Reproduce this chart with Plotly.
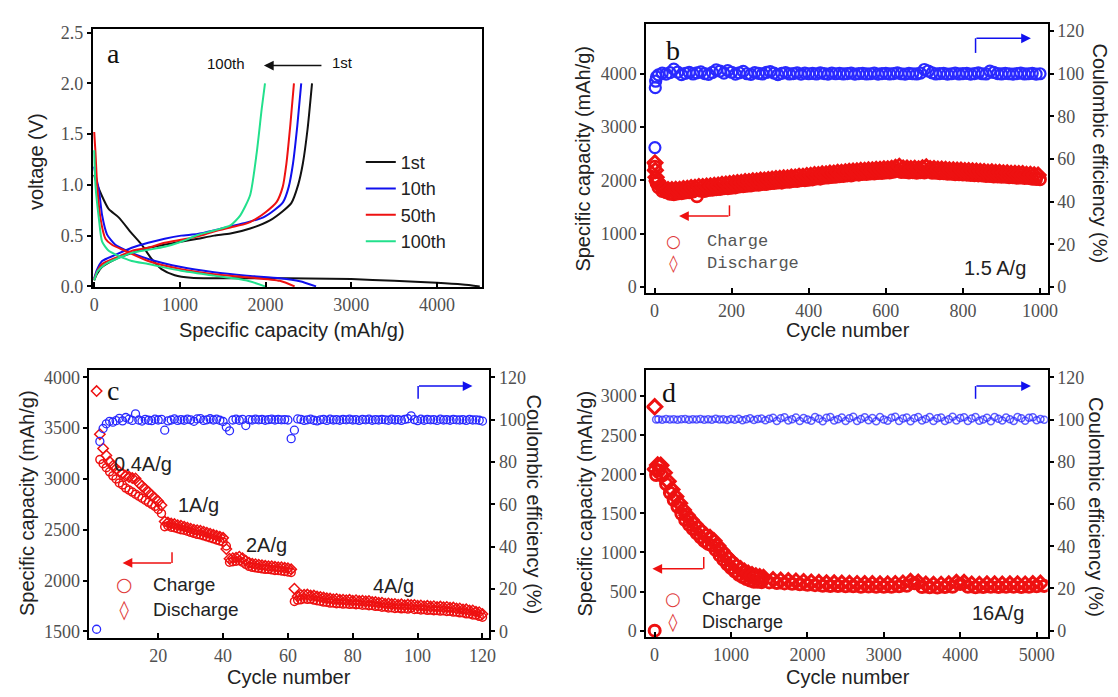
import plotly.graph_objects as go

W, H = 1118, 697

# ---------------- Panel a: voltage profiles ----------------
a1_chg_cap = [0, 30, 90, 250, 440, 630, 1010, 1210, 1400, 1590, 1820, 2051, 2200, 2300, 2380, 2435, 2490, 2542]
a1_chg_v = [0.06, 0.12, 0.19, 0.27, 0.33, 0.38, 0.44, 0.47, 0.50, 0.52, 0.57, 0.65, 0.74, 0.82, 1.00, 1.21, 1.55, 2.00]
a1_dis_cap = [0, 15, 90, 170, 285, 440, 555, 670, 785, 940, 1130, 1400, 2000, 2500, 3000, 3500, 4000, 4300, 4500]
a1_dis_v = [1.10, 1.05, 0.89, 0.76, 0.68, 0.52, 0.41, 0.27, 0.17, 0.11, 0.085, 0.08, 0.08, 0.078, 0.072, 0.055, 0.035, 0.018, 0.0]

a10_chg_cap = [0, 30, 92, 246, 438, 630, 822, 1014, 1206, 1398, 1590, 1782, 1974, 2100, 2204, 2270, 2320, 2370, 2416]
a10_chg_v = [0.08, 0.16, 0.25, 0.31, 0.38, 0.43, 0.47, 0.50, 0.515, 0.55, 0.59, 0.63, 0.68, 0.75, 0.83, 0.98, 1.21, 1.58, 2.00]
a10_dis_cap = [0, 15, 54, 92, 150, 246, 438, 630, 1014, 1398, 1782, 2166, 2400, 2589]
a10_dis_v = [1.18, 1.10, 0.955, 0.70, 0.51, 0.41, 0.33, 0.27, 0.19, 0.14, 0.106, 0.08, 0.05, 0.0]

a50_chg_cap = [0, 30, 92, 246, 438, 630, 822, 1014, 1206, 1398, 1590, 1782, 1897, 2000, 2128, 2200, 2243, 2290, 2331]
a50_chg_v = [0.07, 0.14, 0.22, 0.28, 0.35, 0.38, 0.43, 0.46, 0.49, 0.54, 0.58, 0.62, 0.67, 0.73, 0.83, 0.98, 1.21, 1.60, 2.00]
a50_dis_cap = [0, 5, 15, 35, 73, 131, 207, 361, 630, 1014, 1398, 1782, 2166, 2339]
a50_dis_v = [1.52, 1.45, 1.31, 0.99, 0.67, 0.47, 0.41, 0.35, 0.25, 0.17, 0.12, 0.09, 0.055, 0.0]

a100_chg_cap = [0, 40, 131, 284, 438, 630, 822, 1014, 1206, 1398, 1590, 1705, 1820, 1897, 1955, 1993]
a100_chg_v = [0.06, 0.15, 0.22, 0.28, 0.33, 0.36, 0.39, 0.44, 0.506, 0.55, 0.60, 0.70, 0.90, 1.32, 1.75, 2.00]
a100_dis_cap = [0, 5, 15, 54, 92, 169, 284, 438, 630, 1014, 1398, 1782, 1993]
a100_dis_v = [1.34, 1.20, 0.99, 0.67, 0.44, 0.35, 0.30, 0.25, 0.22, 0.154, 0.106, 0.058, 0.0]

# ---------------- Panel b: 1.5 A/g, 1000 cycles ----------------
b_chg_cyc = [1, 3, 5] + list(range(10, 1001, 10))
b_chg = [2260, 2010, 1950,
         1870, 1800, 1775, 1750, 1740, 1755, 1760, 1770, 1778, 1790,
         1700, 1805, 1800, 1818, 1822, 1835, 1838, 1852, 1850, 1862,
         1868, 1884, 1888, 1898, 1902, 1918, 1917, 1933, 1932, 1944,
         1948, 1958, 1957, 1972, 1973, 1988, 1987, 2003, 2002, 2013,
         2018, 2033, 2032, 2048, 2052, 2063, 2067, 2078, 2082, 2093,
         2092, 2108, 2107, 2118, 2117, 2128, 2127, 2138, 2137, 2148,
         2147, 2163, 2182, 2158, 2157, 2148, 2153, 2143, 2152, 2148,
         2168, 2142, 2143, 2132, 2133, 2122, 2123, 2112, 2113, 2108,
         2107, 2098, 2097, 2093, 2092, 2083, 2082, 2073, 2072, 2068,
         2067, 2058, 2057, 2048, 2052, 2043, 2042, 2028, 2027, 2020]
b_dis_cyc = [1, 2, 4, 7] + list(range(15, 1000, 10))
b_dis = [2330, 2190, 2060, 1990,
         1900, 1852, 1828, 1826, 1832, 1833, 1847, 1853, 1867,
         1868, 1882, 1883, 1892, 1898, 1907, 1913, 1927, 1933, 1942,
         1948, 1957, 1963, 1977, 1978, 1992, 1993, 2007, 2008, 2017,
         2023, 2032, 2038, 2047, 2048, 2062, 2063, 2077, 2078, 2092,
         2093, 2107, 2108, 2122, 2123, 2137, 2138, 2152, 2153, 2162,
         2168, 2177, 2178, 2187, 2188, 2197, 2198, 2207, 2208, 2217,
         2218, 2227, 2245, 2262, 2233, 2232, 2223, 2227, 2218, 2237,
         2252, 2223, 2222, 2213, 2212, 2207, 2198, 2197, 2193, 2192,
         2183, 2182, 2178, 2177, 2168, 2167, 2158, 2162, 2153, 2152,
         2143, 2142, 2133, 2132, 2128, 2127, 2113, 2112, 2103, 2100]
b_ce_cyc = [1, 2, 3, 5] + list(range(10, 1001, 10))
b_ce = [65.4, 93.5, 96.5, 98.5,
        99.5, 100.3, 99.8, 100.5, 102.2, 100.8, 99.6, 100.2, 100.6, 99.9,
        100.4, 100.9, 100.1, 99.7, 100.6, 101.8, 101.2, 100.3, 101.5, 100.7,
        99.8, 100.4, 101.1, 100.0, 99.7, 100.5, 100.2, 99.9, 100.6, 101.0,
        100.3, 99.6, 100.2, 100.5, 99.9, 100.1, 100.4, 99.8, 100.3, 100.0,
        100.2, 99.9, 100.4, 100.1, 99.8, 100.3, 100.0, 100.2, 99.9, 100.1,
        100.3, 99.8, 100.1, 100.2, 99.9, 100.0, 100.3, 99.8, 100.1, 100.2,
        99.9, 100.1, 100.4, 100.0, 99.8, 100.2, 100.0, 99.9, 100.3, 102.0,
        101.3, 100.4, 99.9, 100.1, 100.2, 99.8, 100.0, 100.3, 99.9, 100.1,
        100.2, 99.8, 100.1, 100.4, 100.0, 99.9, 101.2, 100.6, 100.1, 99.9,
        100.2, 100.0, 99.8, 100.1, 100.3, 99.9, 100.0, 100.2, 99.8, 100.0]

# ---------------- Panel c: rate capability, 120 cycles ----------------
c_cyc = list(range(1, 121))
c_chg = [None,
         3190, 3150, 3110, 3070, 3030, 3000, 2960, 2940, 2910, 2890,
         2870, 2850, 2830, 2810, 2790, 2770, 2750, 2730, 2700, 2660,
         2530, 2540, 2525, 2520, 2510, 2500, 2495, 2485, 2475, 2465,
         2455, 2450, 2440, 2430, 2420, 2410, 2400, 2390, 2380, 2340,
         2180, 2185, 2190, 2195, 2180, 2160, 2140, 2130, 2125, 2120,
         2115, 2110, 2110, 2105, 2100, 2100, 2095, 2090, 2085, 2080,
         1795,
         1808, 1812, 1822, 1815, 1818, 1808, 1802, 1797, 1788, 1787,
         1778, 1780, 1772, 1775, 1768, 1772, 1766, 1768, 1762, 1765,
         1758, 1760, 1752, 1755, 1746, 1746, 1738, 1740, 1731, 1733,
         1726, 1729, 1722, 1725, 1719, 1730, 1716, 1718, 1711, 1714,
         1707, 1710, 1703, 1706, 1700, 1703, 1696, 1698, 1690, 1691,
         1682, 1684, 1673, 1673, 1662, 1660, 1648, 1640]
c_dis = [3864,
         3440, 3300, 3230, 3170, 3130, 3100, 3070, 3050, 3030, 3020,
         3010, 3005, 2960, 2930, 2900, 2870, 2840, 2810, 2780, 2740,
         2580, 2570, 2560, 2555, 2545, 2540, 2530, 2520, 2510, 2500,
         2495, 2490, 2480, 2470, 2460, 2450, 2440, 2430, 2420, 2310,
         2215, 2220, 2225, 2235, 2220, 2195, 2175, 2165, 2160, 2155,
         2150, 2145, 2140, 2140, 2135, 2130, 2130, 2125, 2120, 2110,
         1920,
         1845, 1858, 1860, 1862, 1852, 1852, 1842, 1838, 1832, 1825,
         1822, 1815, 1818, 1810, 1812, 1806, 1810, 1802, 1806, 1798,
         1802, 1795, 1798, 1790, 1788, 1782, 1782, 1772, 1775, 1768,
         1770, 1762, 1766, 1758, 1763, 1760, 1760, 1752, 1755, 1748,
         1751, 1744, 1747, 1740, 1744, 1737, 1740, 1732, 1734, 1725,
         1726, 1716, 1717, 1706, 1706, 1692, 1688, 1670]
c_ce = [1.0, 89.7, 95.8, 98.0, 99.2, 98.8, 99.5, 100.6, 99.4, 101.0,
        100.2, 99.6, 102.7, 99.8, 99.3, 100.1, 99.7, 99.5, 100.2, 99.8,
        100.1, 95.0, 99.4, 99.8, 100.3, 99.6, 100.0, 99.7, 100.2, 99.9,
        99.2, 100.3, 100.5, 99.6, 99.9, 100.4, 99.8, 100.2, 99.7, 99.1,
        96.5, 94.7, 99.8, 100.2, 99.7, 100.1, 97.2, 100.0, 99.8, 100.2,
        99.9, 100.1, 99.7, 100.0, 100.2, 99.8, 100.1, 99.9, 100.0, 99.8,
        91.0, 95.0, 100.3, 100.1, 99.6, 99.9, 100.2, 99.7, 99.4, 99.9,
        100.1, 99.6, 100.2, 99.8, 100.0, 99.7, 100.1, 99.9, 100.2, 99.8,
        100.0, 99.6, 100.1, 99.9, 100.2, 99.7, 100.0, 99.8, 100.1, 99.9,
        99.7, 100.2, 99.8, 100.0, 99.6, 100.1, 100.4, 101.8, 100.0, 99.5,
        100.2, 99.7, 100.1, 99.9, 100.0, 99.6, 100.2, 99.8, 100.0, 99.7,
        100.1, 99.9, 99.8, 100.0, 99.6, 100.1, 99.8, 99.9, 99.7, 99.3]

# ---------------- Panel d: 16 A/g, 5000 cycles ----------------
d_chg_cyc = [1, 20, 60] + list(range(100, 1401, 50)) + list(range(1500, 5101, 100))
d_chg = [0, 1990, 2050,
         1985, 1875, 1765, 1670, 1585, 1495, 1415, 1355, 1300, 1245,
         1195, 1145, 1110, 1090, 1030, 965, 905, 850, 800, 755,
         715, 685, 660, 640, 625, 625, 620,
         617, 610, 604, 600, 594, 587, 582, 574, 570, 572,
         567, 567, 562, 564, 562, 560, 562, 567, 575, 607,
         557, 554, 552, 557, 562, 597, 562, 554, 557, 560,
         557, 560, 562, 557, 560, 567, 572]
d_dis_cyc = [1, 10, 40, 80] + list(range(125, 1426, 50)) + list(range(1550, 5051, 100))
d_dis = [2864, 2065, 2120, 2115,
         2020, 1910, 1805, 1715, 1630, 1545, 1475, 1415, 1360, 1310,
         1260, 1215, 1190, 1150, 1085, 1025, 965, 915, 865, 825,
         790, 760, 735, 715, 700, 690, 680,
         650, 643, 638, 633, 626, 620, 614, 608, 608, 606,
         603, 601, 599, 600, 597, 597, 601, 607, 628, 618,
         592, 589, 591, 596, 616, 616, 594, 591, 595, 595,
         594, 597, 596, 594, 599, 605]
d_ce_cyc = [20] + list(range(50, 5101, 50))
d_ce = [100.1,
        100.2, 100.0, 100.3, 100.1, 100.2, 99.9, 100.2, 100.3, 100.0, 100.2,
        100.1, 100.3, 99.9, 100.2, 100.0, 100.4, 100.1, 100.2, 99.8, 100.3,
        100.0, 100.4, 99.7, 100.2, 100.6, 99.8, 100.3, 100.5, 99.7, 100.4,
        100.9, 99.4, 100.6, 101.1, 99.6, 100.2, 101.0, 99.3, 100.8, 100.1,
        99.5, 101.2, 100.4, 99.2, 100.9, 101.3, 99.6, 100.2, 101.0, 99.4,
        100.7, 101.4, 99.3, 100.3, 101.1, 99.7, 100.8, 99.2, 101.3, 100.1,
        99.5, 100.9, 101.4, 99.4, 100.5, 101.0, 99.2, 100.6, 101.2, 99.6,
        100.3, 101.3, 99.4, 100.7, 101.0, 99.3, 100.2, 101.4, 99.6, 100.8,
        101.1, 99.3, 100.5, 101.3, 99.5, 100.1, 100.9, 99.2, 101.2, 100.4,
        99.6, 101.0, 100.2, 99.4, 101.3, 100.6, 99.5, 100.9, 101.1, 99.7,
        100.3, 100.0]

a_ticks = [0, 0.5, 1.0, 1.5, 2.0, 2.5]
a_ticktext = ["0.0", "0.5", "1.0", "1.5", "2.0", "2.5"]

# ---------------- styling ----------------
BLACK = "#111111"
BLUE = "#1010ee"
RED = "#ee1111"
GREEN = "#22e08c"
CE_BLUE = "#2a2aff"
SERIF = "Liberation Serif"
SANS = "Liberation Sans"


def X(p):
    return p / W


def Y(p):
    return 1 - p / H


fig = go.Figure()

# panel a
for name, col, cc, cv, dc, dv in [
    ("1st", BLACK, a1_chg_cap, a1_chg_v, a1_dis_cap, a1_dis_v),
    ("10th", BLUE, a10_chg_cap, a10_chg_v, a10_dis_cap, a10_dis_v),
    ("50th", RED, a50_chg_cap, a50_chg_v, a50_dis_cap, a50_dis_v),
    ("100th", GREEN, a100_chg_cap, a100_chg_v, a100_dis_cap, a100_dis_v),
]:
    fig.add_trace(go.Scatter(x=dc, y=dv, mode="lines", line=dict(color=col, width=2, shape="spline", smoothing=0.6),
                             name=name, legendgroup=name, showlegend=False, xaxis="x", yaxis="y"))
    fig.add_trace(go.Scatter(x=cc, y=cv, mode="lines", line=dict(color=col, width=2, shape="spline", smoothing=0.6),
                             name=name, legendgroup=name, showlegend=True, xaxis="x", yaxis="y"))

# panel b
fig.add_trace(go.Scatter(x=b_ce_cyc, y=b_ce, mode="markers", xaxis="x2", yaxis="y3", showlegend=False,
                         marker=dict(symbol="circle-open", size=11, color=CE_BLUE, line=dict(width=2.2, color=CE_BLUE))))
fig.add_trace(go.Scatter(x=b_chg_cyc, y=b_chg, mode="markers", xaxis="x2", yaxis="y2", showlegend=False,
                         marker=dict(symbol="circle-open", size=11, color=RED, line=dict(width=2.8, color=RED))))
fig.add_trace(go.Scatter(x=b_dis_cyc, y=b_dis, mode="markers", xaxis="x2", yaxis="y2", showlegend=False,
                         marker=dict(symbol="diamond-open", size=11, color=RED, line=dict(width=2.8, color=RED))))

# panel c
fig.add_trace(go.Scatter(x=c_cyc, y=c_ce, mode="markers", xaxis="x3", yaxis="y5", showlegend=False,
                         marker=dict(symbol="circle-open", size=8, color=CE_BLUE, line=dict(width=1.3, color=CE_BLUE))))
fig.add_trace(go.Scatter(x=c_cyc, y=c_chg, mode="markers", xaxis="x3", yaxis="y4", showlegend=False,
                         marker=dict(symbol="circle-open", size=8, color=RED, line=dict(width=1.5, color=RED))))
fig.add_trace(go.Scatter(x=c_cyc, y=c_dis, mode="markers", xaxis="x3", yaxis="y4", showlegend=False,
                         marker=dict(symbol="diamond-open", size=8, color=RED, line=dict(width=1.5, color=RED))))

# panel d
fig.add_trace(go.Scatter(x=d_ce_cyc, y=d_ce, mode="markers", xaxis="x4", yaxis="y7", showlegend=False,
                         marker=dict(symbol="circle-open", size=7, color="rgba(40,40,255,0.75)",
                                     line=dict(width=1.5, color="rgba(40,40,255,0.75)"))))
fig.add_trace(go.Scatter(x=d_chg_cyc, y=d_chg, mode="markers", xaxis="x4", yaxis="y6", showlegend=False,
                         marker=dict(symbol="circle-open", size=11, color=RED, line=dict(width=3, color=RED))))
fig.add_trace(go.Scatter(x=d_dis_cyc, y=d_dis, mode="markers", xaxis="x4", yaxis="y6", showlegend=False,
                         marker=dict(symbol="diamond-open", size=11, color=RED, line=dict(width=3, color=RED))))

tickfont = dict(family=SERIF, size=18, color="#505050")


def xax(dom, rng, vals, anchor):
    return dict(domain=[X(dom[0]), X(dom[1])], range=rng, tickvals=vals, anchor=anchor,
                showline=True, linewidth=2, linecolor="black", mirror=True, showgrid=False, zeroline=False,
                ticks="inside", ticklen=5, tickwidth=1.5, tickcolor="black", tickfont=tickfont,
                ticklabelstandoff=0)


def yax(dom, rng, vals, anchor, side="left", overlay=None, text=None):
    d = dict(range=rng, tickvals=vals, anchor=anchor, side=side,
             showline=True, linewidth=2, linecolor="black", showgrid=False, zeroline=False,
             ticks="outside", ticklen=4, tickwidth=1.5, tickcolor="black", tickfont=tickfont)
    if overlay:
        d["overlaying"] = overlay
    else:
        d["domain"] = [Y(dom[0]), Y(dom[1])]
        d["mirror"] = True
    if text:
        d["ticktext"] = text
    return d


ann = []


def txt(x, y, s, size, family=SANS, color="#222222", angle=0, xanchor="center", align="center"):
    ann.append(dict(x=X(x), y=Y(y), xref="paper", yref="paper", text=s, showarrow=False,
                    font=dict(family=family, size=size, color=color), textangle=angle,
                    xanchor=xanchor, yanchor="middle", align=align))


def arrow(x0, y0, x1, y1, color, width=1.5):
    # tail at (x0, y0), head at (x1, y1), screen pixels
    ann.append(dict(x=X(x1), y=Y(y1), xref="paper", yref="paper",
                    ax=x0 - x1, ay=y0 - y1, axref="pixel", ayref="pixel",
                    text="", showarrow=True, arrowhead=2,
                    arrowsize=1.3, arrowwidth=width, arrowcolor=color))


shapes = []


def seg(x0, y0, x1, y1, color, width=1.5):
    shapes.append(dict(type="line", xref="paper", yref="paper", x0=X(x0), y0=Y(y0), x1=X(x1), y1=Y(y1),
                       line=dict(color=color, width=width)))


GLYPH = "#e03a3a"

# panel letters
txt(112, 48, "a", 28, SERIF, "#111")
txt(678, 45, "b", 28, SERIF, "#111")
txt(111, 393, "c", 28, SERIF, "#111")
txt(674, 395, "d", 28, SERIF, "#111")

# panel a
txt(226, 58, "100th", 15, SANS, "#111")
txt(343, 57, "1st", 15, SANS, "#111")
arrow(323, 60, 264, 60, "#111", 1.5)
txt(292, 331, "Specific capacity (mAh/g)", 20)
txt(34, 158, "voltage (V)", 20, angle=-90)

# panel b
txt(1004, 267, "1.5 A/g", 20)
txt(855, 331, "Cycle number", 20)
txt(587, 155, "Specific capacity (mAh/g)", 20, angle=-90)
txt(1110, 150, "Coulombic efficiency (%)", 20, angle=90)
seg(735, 203, 735, 214, RED)
arrow(735, 214, 684, 214, RED)
seg(984, 47, 984, 32, BLUE)
arrow(984, 32, 1040, 32, BLUE)
txt(678, 251, "○<br>◊", 17, "DejaVu Sans", GLYPH)
txt(710, 251, "Charge<br>Discharge", 17, "Liberation Mono", "#555", xanchor="left", align="left")

# panel c
txt(142, 468, "0.4A/g", 20)
txt(198, 510, "1A/g", 20)
txt(267, 551, "2A/g", 20)
txt(395, 593, "4A/g", 20)
txt(289, 686, "Cycle number", 20)
txt(25, 508, "Specific capacity (mAh/g)", 20, angle=-90)
txt(537, 509, "Coulombic efficiency (%)", 20, angle=90)
seg(171, 558, 171, 569, RED)
arrow(171, 569, 121, 569, RED)
seg(420, 401, 420, 388, BLUE)
arrow(420, 388, 475, 388, BLUE)
txt(123, 604, "○<br>◊", 19, "DejaVu Sans", GLYPH)
txt(150, 604, "Charge<br>Discharge", 19, xanchor="left", align="left")

# panel d
txt(1007, 620, "16A/g", 20)
txt(855, 686, "Cycle number", 20)
txt(589, 508, "Specific capacity (mAh/g)", 20, angle=-90)
txt(1106, 512, "Coulombic efficiency (%)", 20, angle=90)
seg(709, 563, 709, 575, RED)
arrow(709, 575, 657, 575, RED)
seg(984, 401, 984, 388, BLUE)
arrow(984, 388, 1040, 388, BLUE)
txt(678, 618, "○<br>◊", 18, "DejaVu Sans", GLYPH)
txt(705, 618, "Charge<br>Discharge", 18, xanchor="left", align="left")

fig.update_layout(
    width=W, height=H, autosize=False,
    margin=dict(l=0, r=0, t=0, b=0),
    paper_bgcolor="white", plot_bgcolor="white",
    showlegend=True,
    legend=dict(x=X(362), y=Y(140), xanchor="left", yanchor="top", bgcolor="rgba(0,0,0,0)",
                font=dict(family=SANS, size=18, color="#222"), tracegroupgap=0, itemwidth=30),
    xaxis=xax((91, 485), [-15, 4530], [0, 1000, 2000, 3000, 4000], "y"),
    yaxis=yax((287, 23), [-0.01, 2.53], a_ticks, "x", text=a_ticktext),
    xaxis2=xax((651, 1057), [-21, 1020], [0, 200, 400, 600, 800, 1000], "y2"),
    yaxis2=yax((293, 17), [-115, 4940], [0, 1000, 2000, 3000, 4000], "x2"),
    yaxis3=yax(None, [-2.875, 123.5], [0, 20, 40, 60, 80, 100, 120], "x2", side="right", overlay="y2"),
    xaxis3=xax((87.5, 492), [-1.2, 122.1], [20, 40, 60, 80, 100, 120], "y4"),
    yaxis4=yax((646, 372), [1433, 4067], [1500, 2000, 2500, 3000, 3500, 4000], "x3"),
    yaxis5=yax(None, [-3.2, 123.2], [0, 20, 40, 60, 80, 100, 120], "x3", side="right", overlay="y4"),
    xaxis4=xax((651, 1057), [-107, 5145], [0, 1000, 2000, 3000, 4000, 5000], "y6"),
    yaxis6=yax((645, 372), [-84, 3329], [0, 500, 1000, 1500, 2000, 2500, 3000], "x4"),
    yaxis7=yax(None, [-3.1, 123.3], [0, 20, 40, 60, 80, 100, 120], "x4", side="right", overlay="y6"),
    annotations=ann,
    shapes=shapes,
)

fig.write_html("out.html")
